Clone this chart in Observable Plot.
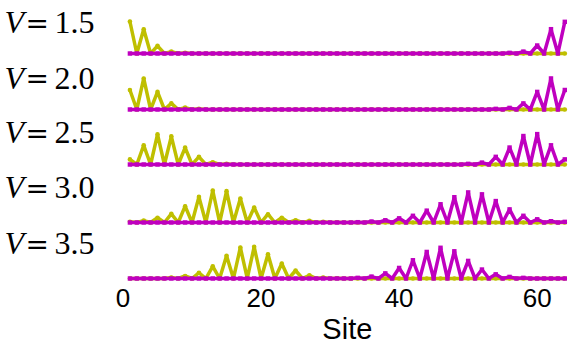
<!DOCTYPE html>
<html><head><meta charset="utf-8">
<script src="https://cdn.jsdelivr.net/npm/d3@7"></script>
<script src="https://cdn.jsdelivr.net/npm/@observablehq/plot@0.6"></script>
<style>
html,body{margin:0;padding:0;background:#fff;}
#chart{position:relative;width:579px;height:345px;overflow:hidden;background:#fff;}
#chart svg{position:absolute;left:0;overflow:visible;background:none;}
</style></head><body><div id="chart"></div>
<script>
// Site index (x values)
const sites = d3.range(1, 65);
const voltages = ["1.5", "2.0", "2.5", "3.0", "3.5"];
const xTicks = [0, 20, 40, 60];

// Left edge state (yellow), sites 1..64, relative density
const left15 = [
1.00,0,0.76,0,0.24,0,0.06,0,0.02,0,0,0,0,0,0,0,
0,0,0,0,0,0,0,0,0,0,0,0,0,0,0,0,
0,0,0,0,0,0,0,0,0,0,0,0,0,0,0,0,
0,0,0,0,0,0,0,0,0,0,0,0,0,0,0,0];
const right15 = [
0,0,0,0,0,0,0,0,0,0,0,0,0,0,0,0,
0,0,0,0,0,0,0,0,0,0,0,0,0,0,0,0,
0,0,0,0,0,0,0,0,0,0,0,0,0,0,0,0,
0,0,0,0,0,0,0,0.02,0,0.06,0,0.25,0,0.76,0,0.99];

const left20 = [
0.61,0,0.97,0,0.55,0,0.19,0,0.06,0,0.02,0,0,0,0,0,
0,0,0,0,0,0,0,0,0,0,0,0,0,0,0,0,
0,0,0,0,0,0,0,0,0,0,0,0,0,0,0,0,
0,0,0,0,0,0,0,0,0,0,0,0,0,0,0,0];
const right20 = [
0,0,0,0,0,0,0,0,0,0,0,0,0,0,0,0,
0,0,0,0,0,0,0,0,0,0,0,0,0,0,0,0,
0,0,0,0,0,0,0,0,0,0,0,0,0,0,0,0,
0,0,0,0,0,0.02,0,0.05,0,0.19,0,0.55,0,0.97,0,0.61];

const left25 = [
0.16,0,0.60,0,0.94,0,0.88,0,0.53,0,0.24,0,0.07,0,0.02,0,
0,0,0,0,0,0,0,0,0,0,0,0,0,0,0,0,
0,0,0,0,0,0,0,0,0,0,0,0,0,0,0,0,
0,0,0,0,0,0,0,0,0,0,0,0,0,0,0,0];
const right25 = [
0,0,0,0,0,0,0,0,0,0,0,0,0,0,0,0,
0,0,0,0,0,0,0,0,0,0,0,0,0,0,0,0,
0,0,0,0,0,0,0,0,0,0,0,0,0,0,0,0,
0,0.02,0,0.06,0,0.24,0,0.53,0,0.89,0,0.95,0,0.60,0,0.16];

const left30 = [
0.02,0,0.06,0,0.15,0,0.27,0,0.51,0,0.80,0,1.00,0,0.98,0,
0.75,0,0.47,0,0.26,0,0.15,0,0.07,0,0.05,0,0.02,0,0.01,0,
0,0,0,0,0,0,0,0,0,0,0,0,0,0,0,0,
0,0,0,0,0,0,0,0,0,0,0,0,0,0,0,0];
const right30 = [
0,0,0,0,0,0,0,0,0,0,0,0,0,0,0,0,
0,0,0,0,0,0,0,0,0,0,0,0,0,0,0,0,
0,0.01,0,0.03,0,0.07,0,0.13,0,0.21,0,0.37,0,0.57,0,0.79,
0,0.94,0,0.88,0,0.67,0,0.41,0,0.21,0,0.10,0,0.04,0,0.02];

const left35 = [
0,0,0,0,0,0,0.03,0,0.08,0,0.18,0,0.38,0,0.71,0,
0.97,0,0.99,0,0.76,0,0.47,0,0.25,0,0.10,0,0.03,0,0.01,0,
0,0,0,0,0,0,0,0,0,0,0,0,0,0,0,0,
0,0,0,0,0,0,0,0,0,0,0,0,0,0,0,0];
const right35 = [
0,0,0,0,0,0,0,0,0,0,0,0,0,0,0,0,
0,0,0,0,0,0,0,0,0,0,0,0,0,0,0,0,
0,0.02,0,0.06,0,0.16,0,0.33,0,0.57,0,0.83,0,0.96,0,0.85,
0,0.55,0,0.28,0,0.13,0,0.05,0,0.02,0,0,0,0,0,0];

const leftSeries = [left15, left20, left25, left30, left35];
const rightSeries = [right15, right20, right25, right30, right35];

// Styling / layout
const yellow = "#bfbf00", magenta = "#bf00bf";
const W = 579, H = 345;
const ML = 122.5, MR = 7.8;
const baselines = [52.7, 108.7, 164.3, 222.3, 278.3];
const labelCenters = [22, 77.5, 133, 188, 243.5];
const above = 45, peakTop = 13;
const serif = "Liberation Serif, Times New Roman, serif";
const mathSerif = "DejaVu Serif, serif";
const sans = "Liberation Sans, Arial, sans-serif";
const labelSize = 32;

const chart = document.getElementById("chart");

voltages.forEach((v, k) => {
  const last = k === voltages.length - 1;
  const top = baselines[k] - above;
  const height = last ? H - top : 50;
  const L = leftSeries[k], R = rightSeries[k];
  const labDy = labelCenters[k] - top - peakTop;
  const labelText = (t, x, italic, family, size, ddy) => Plot.text([t], {
    frameAnchor: "top-left", textAnchor: "start", lineAnchor: "middle",
    dx: x - ML, dy: labDy + (ddy || 0), fontStyle: italic ? "italic" : "normal",
    fontSize: size, fontFamily: family, fill: "black"});
  const marks = [
    Plot.line(sites, {x: d => d, y: (d, i) => L[i], stroke: yellow, strokeWidth: 3.5}),
    Plot.dot(sites, {x: d => d, y: (d, i) => L[i], fill: yellow, r: 2.3}),
    Plot.line(sites, {x: d => d, y: (d, i) => R[i], stroke: magenta, strokeWidth: 3.5}),
    Plot.dot(sites, {x: d => d, y: (d, i) => R[i], fill: magenta, symbol: "square", r: 2.5}),
    labelText("V", 4, true, serif, labelSize),
    labelText("=", 25, false, mathSerif, 28, 1),
    labelText(v, 54, false, serif, labelSize)
  ];
  if (last) {
    marks.push(Plot.axisX(xTicks, {tickSize: 0, tickPadding: 10, fontSize: 26, fontFamily: sans, fill: "black", label: null}));
    marks.push(Plot.text(["Site"], {frameAnchor: "bottom", lineAnchor: "middle", dy: 51,
      fontSize: 29, fontFamily: sans, fill: "black"}));
  }
  const svg = Plot.plot({
    width: W,
    height,
    marginLeft: ML,
    marginRight: MR,
    marginTop: peakTop,
    marginBottom: height - above,
    x: {domain: [0, 65], axis: null},
    y: {domain: [0, 1], axis: null},
    style: {background: "none", overflow: "visible", color: "black"},
    marks
  });
  svg.style.top = top + "px";
  chart.appendChild(svg);
});
</script></body></html>
